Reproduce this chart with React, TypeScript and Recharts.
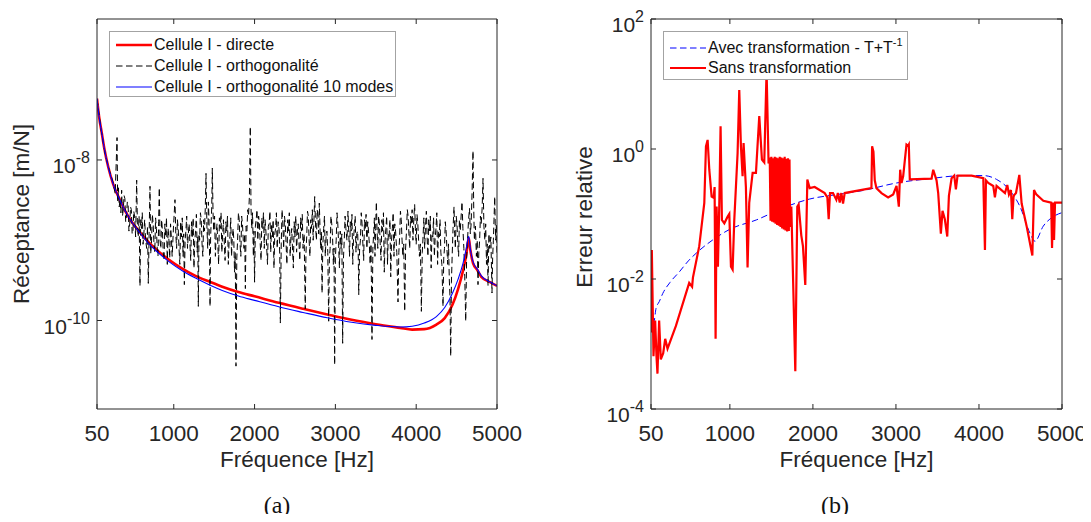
import { LineChart, Line, XAxis, YAxis, Label } from 'recharts';

const FONT = '"Liberation Sans", Arial, Helvetica, sans-serif';
const INK = '#262626';

const freqTicks = [50, 1000, 2000, 3000, 4000, 5000];
const recTicks = [1e-10, 1e-8];
const errTicks = [1e-4, 1e-2, 1, 100];
const recDomain = [7.9e-12, 5.7e-7];
const errDomain = [1e-4, 100];

// (a) receptance [m/N] vs frequency [Hz]
const directe = [
  [50, 5.8e-8], [75, 3.5e-8], [108, 2.2e-8], [140, 1.4e-8], [190, 8.1e-9], [250, 5.0e-9], [314, 3.5e-9],
  [400, 2.3e-9], [479, 1.7e-9], [580, 1.26e-9], [685, 9.5e-10], [800, 7.4e-10], [932, 5.8e-10], [1100, 4.47e-10],
  [1263, 3.63e-10], [1450, 3.02e-10], [1600, 2.63e-10], [1800, 2.26e-10], [2000, 2.0e-10], [2300, 1.66e-10],
  [2600, 1.40e-10], [2900, 1.19e-10], [3200, 1.02e-10], [3500, 9.0e-11], [3800, 8.1e-11], [3950, 7.7e-11],
  [4100, 7.8e-11], [4250, 8.9e-11], [4353, 1.07e-10], [4450, 1.58e-10], [4520, 2.5e-10], [4580, 4.2e-10],
  [4620, 6.6e-10], [4650, 1.07e-9], [4670, 7.6e-10], [4703, 5.2e-10], [4760, 4.2e-10], [4806, 3.5e-10],
  [4930, 2.95e-10], [5000, 2.7e-10],
];

const ortho10 = [
  [50, 5.8e-8], [75, 3.5e-8], [108, 2.2e-8], [140, 1.4e-8], [190, 8.1e-9], [250, 5.0e-9], [314, 3.5e-9],
  [400, 2.3e-9], [479, 1.7e-9], [580, 1.24e-9], [685, 9.2e-10], [800, 7.1e-10], [932, 5.5e-10], [1100, 4.2e-10],
  [1263, 3.4e-10], [1450, 2.75e-10], [1600, 2.37e-10], [1800, 2.02e-10], [2000, 1.78e-10], [2300, 1.48e-10],
  [2600, 1.26e-10], [2900, 1.08e-10], [3200, 9.5e-11], [3500, 8.7e-11], [3800, 8.3e-11], [3950, 8.5e-11],
  [4100, 9.3e-11], [4250, 1.12e-10], [4353, 1.45e-10], [4450, 2.2e-10], [4520, 3.3e-10], [4580, 5.2e-10],
  [4620, 7.9e-10], [4650, 1.12e-9], [4670, 7.8e-10], [4703, 5.4e-10], [4760, 4.3e-10], [4806, 3.6e-10],
  [4930, 2.95e-10], [5000, 2.7e-10],
];

const ortho = [
  [50, 5.8e-8], [100, 2.4e-8], [150, 1.2e-8], [200, 7.6e-9], [250, 5.2e-9], [275, 3.8e-9], [298, 1.9e-8],
  [306, 3.0e-9], [315, 4.5e-9], [325, 2.6e-9], [335, 3.2e-9], [345, 2.2e-9], [355, 4.2e-9], [365, 2.0e-9],
  [375, 2.4e-9], [385, 3.6e-9], [395, 3.3e-9], [405, 1.7e-9], [415, 2.0e-9], [425, 3.0e-9], [435, 2.8e-9],
  [445, 1.3e-9], [455, 1.6e-9], [465, 2.6e-9], [475, 2.4e-9], [485, 1.2e-9], [495, 1.3e-9], [505, 2.3e-9],
  [515, 2.0e-9], [528, 1.1e-9], [541, 5.6e-9], [550, 1.5e-9], [560, 1.1e-9], [571, 2.0e-9], [582, 2.7e-10],
  [591, 1.8e-9], [600, 1.4e-9], [610, 2.2e-9], [620, 8.9e-10], [630, 1.2e-9], [640, 1.8e-9], [652, 1.0e-9],
  [665, 7.9e-10], [675, 1.5e-9], [685, 2.9e-10], [695, 1.2e-9], [706, 4.7e-9], [715, 6.8e-10], [725, 1e-9],
  [735, 2.1e-9], [745, 1.6e-9], [755, 9.0e-10], [765, 7.1e-10], [775, 1.9e-9], [785, 1.4e-9], [795, 8.0e-10],
  [805, 6.3e-10], [813, 1.7e-9], [821, 4.5e-9], [830, 1.0e-9], [840, 7.9e-10], [850, 1.8e-9], [860, 1.3e-9],
  [870, 7.0e-10], [880, 5.6e-10], [890, 1.6e-9], [900, 1.1e-9], [910, 1.9e-9], [920, 5.0e-10], [930, 1.4e-9],
  [940, 1e-9], [950, 6.0e-10], [960, 1.6e-9], [970, 1.1e-9], [980, 6.3e-10], [997, 1.5e-9], [1015, 3.2e-9],
  [1025, 1.2e-9], [1035, 7.9e-10], [1045, 1.8e-9], [1055, 1.4e-9], [1065, 8.0e-10], [1075, 5.0e-10],
  [1085, 1.7e-9], [1095, 1.1e-9], [1105, 1.9e-9], [1115, 6.3e-10], [1123, 1.2e-9], [1131, 2.8e-10],
  [1140, 1.0e-9], [1150, 1.3e-9], [1160, 2.0e-9], [1170, 7.9e-10], [1180, 1.2e-9], [1190, 1.6e-9],
  [1200, 9.0e-10], [1210, 5.6e-10], [1220, 1.7e-9], [1230, 1.1e-9], [1240, 1.9e-9], [1250, 4.5e-10],
  [1260, 1.0e-9], [1270, 1.3e-9], [1280, 2.1e-9], [1290, 7.1e-10], [1297, 1.1e-9], [1304, 1.5e-10],
  [1312, 1.2e-9], [1320, 1e-9], [1330, 2.2e-9], [1340, 1.8e-9], [1350, 9.0e-10], [1360, 6.3e-10],
  [1370, 1.8e-9], [1380, 1.3e-9], [1390, 2.5e-9], [1399, 6.8e-9], [1410, 1.5e-9], [1420, 7.9e-10],
  [1428, 3.0e-9], [1435, 2.0e-9], [1442, 8.0e-10], [1449, 1.5e-10], [1456, 1.1e-9], [1462, 1.6e-9],
  [1470, 2.6e-9], [1477, 7.9e-9], [1486, 2.2e-9], [1495, 1.3e-9], [1505, 2.0e-9], [1515, 6.3e-10],
  [1525, 1.2e-9], [1535, 1.6e-9], [1545, 9.0e-10], [1555, 5.0e-10], [1565, 1.9e-9], [1575, 1.4e-9],
  [1585, 2.2e-9], [1595, 7.1e-10], [1605, 1.2e-9], [1615, 1.8e-9], [1625, 9.5e-10], [1635, 5.6e-10],
  [1645, 1.7e-9], [1655, 1.3e-9], [1665, 2.0e-9], [1675, 5.0e-10], [1685, 1.0e-9], [1695, 1.1e-9],
  [1705, 1.9e-9], [1715, 6.3e-10], [1725, 1.1e-9], [1735, 1.4e-9], [1743, 1.0e-9], [1752, 4.0e-10],
  [1761, 7.0e-10], [1770, 2.7e-11], [1780, 6.0e-10], [1790, 1e-9], [1800, 2.2e-9], [1810, 1.8e-9],
  [1820, 9.0e-10], [1830, 6.3e-10], [1840, 2.0e-9], [1850, 1.6e-9], [1860, 1.0e-9], [1870, 7.9e-10],
  [1878, 1.2e-9], [1886, 2.5e-10], [1895, 1.5e-9], [1905, 1.3e-9], [1915, 2.4e-9], [1925, 2.0e-9],
  [1936, 3.5e-9], [1947, 2.6e-8], [1956, 2.5e-9], [1965, 1.4e-9], [1975, 2.2e-9], [1985, 6.3e-10],
  [1992, 1.3e-9], [2000, 3.0e-10], [2010, 1.5e-9], [2020, 1.8e-9], [2030, 2.4e-9], [2040, 1e-9],
  [2050, 2.0e-9], [2060, 1.6e-9], [2070, 9.0e-10], [2080, 5.6e-10], [2090, 1.9e-9], [2100, 1.4e-9],
  [2110, 2.2e-9], [2120, 7.9e-10], [2130, 1.8e-9], [2140, 1.3e-9], [2150, 8.0e-10], [2160, 5.0e-10],
  [2170, 1.5e-9], [2180, 1.6e-9], [2190, 2.3e-9], [2200, 7.1e-10], [2210, 1.6e-9], [2220, 1.1e-9],
  [2230, 1.8e-9], [2240, 4.5e-10], [2250, 1.2e-9], [2260, 1.4e-9], [2270, 2.2e-9], [2280, 7.9e-10],
  [2292, 1.7e-9], [2305, 1.3e-9], [2312, 6.0e-10], [2319, 9.3e-11], [2330, 9.0e-10], [2340, 2.4e-9],
  [2350, 1.6e-9], [2360, 7.9e-10], [2370, 2.0e-9], [2380, 1.6e-9], [2390, 9.0e-10], [2400, 5.0e-10],
  [2410, 1.8e-9], [2420, 1.3e-9], [2430, 2.2e-9], [2440, 6.3e-10], [2450, 1.1e-9], [2460, 1.4e-9],
  [2470, 7.5e-10], [2480, 4.5e-10], [2490, 1.7e-9], [2500, 1.1e-9], [2510, 2.0e-9], [2520, 7.1e-10],
  [2530, 1.3e-9], [2540, 1.6e-9], [2550, 9.0e-10], [2560, 5.6e-10], [2570, 1.9e-9], [2580, 1.3e-9],
  [2590, 2.1e-9], [2600, 7.9e-10], [2613, 1.2e-9], [2627, 1.4e-10], [2636, 7.0e-10], [2645, 1.1e-9],
  [2655, 2.3e-9], [2665, 2.0e-9], [2675, 1.0e-9], [2685, 6.3e-10], [2695, 1.8e-9], [2705, 1.4e-9],
  [2715, 2.4e-9], [2725, 1e-9], [2735, 1.8e-9], [2744, 3.5e-9], [2755, 1.5e-9], [2765, 1e-9],
  [2775, 2.4e-9], [2785, 2.0e-9], [2793, 1.2e-9], [2801, 2.9e-9], [2810, 1.4e-9], [2818, 7.9e-10],
  [2827, 1.3e-9], [2835, 2.2e-10], [2845, 9.0e-10], [2855, 1.4e-9], [2865, 2.0e-9], [2875, 6.3e-10],
  [2885, 1.1e-9], [2895, 1.3e-9], [2906, 7.0e-10], [2917, 9.8e-11], [2926, 6.0e-10], [2935, 7.9e-10],
  [2945, 2.0e-9], [2955, 1.6e-9], [2965, 1.1e-9], [2975, 5.0e-10], [2983, 8.0e-10], [2991, 2.8e-11],
  [3000, 6.0e-10], [3010, 1e-9], [3020, 2.2e-9], [3030, 1.6e-9], [3040, 9.0e-10], [3050, 4.5e-10],
  [3060, 1.3e-9], [3070, 7.9e-10], [3080, 1.2e-9], [3090, 5.2e-11], [3100, 6.0e-10], [3110, 1e-9],
  [3120, 2.0e-9], [3130, 1.4e-9], [3143, 1.0e-9], [3156, 2.3e-9], [3165, 1.3e-9], [3175, 6.3e-10],
  [3185, 1.7e-9], [3195, 1.3e-9], [3205, 2.1e-9], [3215, 5.0e-10], [3225, 1.1e-9], [3235, 1.4e-9],
  [3245, 2.0e-9], [3255, 7.1e-10], [3265, 1.2e-9], [3275, 1.3e-9], [3282, 8.0e-10], [3289, 2.1e-10],
  [3300, 8.0e-10], [3310, 1e-9], [3320, 2.2e-9], [3330, 1.6e-9], [3340, 9.0e-10], [3350, 5.6e-10],
  [3360, 1.8e-9], [3370, 1.4e-9], [3380, 2.1e-9], [3390, 7.9e-10], [3400, 1.7e-9], [3410, 1.3e-9],
  [3420, 9.0e-10], [3430, 5.0e-10], [3441, 9.0e-10], [3453, 5.8e-11], [3464, 8.0e-10], [3475, 1.3e-9],
  [3483, 1.9e-9], [3490, 6.3e-10], [3498, 1.4e-9], [3507, 3.0e-9], [3516, 1.3e-9], [3525, 7.9e-10],
  [3535, 2.0e-9], [3545, 1.6e-9], [3555, 9.0e-10], [3565, 5.6e-10], [3575, 1.8e-9], [3585, 1.3e-9],
  [3595, 2.2e-9], [3605, 4.0e-10], [3615, 1.0e-9], [3625, 1.4e-9], [3635, 2.0e-9], [3645, 5.0e-10],
  [3655, 1.2e-9], [3665, 1.1e-9], [3675, 1.8e-9], [3685, 3.5e-10], [3695, 1.0e-9], [3705, 1.4e-9],
  [3715, 2.2e-9], [3725, 6.3e-10], [3735, 1.6e-9], [3745, 1.3e-9], [3760, 7.0e-10], [3775, 1.7e-10],
  [3785, 7.0e-10], [3795, 1.1e-9], [3805, 2.3e-9], [3815, 1.8e-9], [3825, 1.0e-9], [3835, 6.3e-10],
  [3846, 9.0e-10], [3858, 1.3e-10], [3869, 8.0e-10], [3880, 1.3e-9], [3890, 2.4e-9], [3900, 2.0e-9],
  [3910, 1.2e-9], [3920, 7.9e-10], [3930, 2.0e-9], [3940, 1.6e-9], [3950, 2.4e-9], [3960, 1e-9],
  [3970, 1.8e-9], [3981, 2.8e-9], [3990, 1.4e-9], [4000, 8.9e-10], [4010, 2.1e-9], [4020, 1.6e-9],
  [4030, 1.0e-9], [4040, 6.3e-10], [4052, 9.0e-10], [4064, 1.3e-10], [4075, 7.0e-10], [4085, 1.1e-9],
  [4095, 1.9e-9], [4105, 7.9e-10], [4115, 1.5e-9], [4126, 2.3e-9], [4135, 1.1e-9], [4145, 6.3e-10],
  [4155, 1.8e-9], [4165, 1.3e-9], [4175, 2.0e-9], [4185, 4.5e-10], [4195, 1.2e-9], [4205, 1.1e-9],
  [4215, 1.9e-9], [4225, 6.3e-10], [4235, 1.1e-9], [4245, 1.4e-9], [4255, 2.2e-9], [4265, 5.0e-10],
  [4275, 1.3e-9], [4285, 1.1e-9], [4295, 1.8e-9], [4305, 7.1e-10], [4318, 5.0e-10], [4332, 1.5e-10],
  [4341, 6.0e-10], [4350, 7.9e-10], [4360, 1.7e-9], [4370, 1.3e-9], [4380, 8.0e-10], [4390, 5.0e-10],
  [4400, 9.0e-10], [4410, 3.2e-10], [4418, 2.0e-10], [4427, 3.6e-11], [4436, 3.0e-10], [4445, 6.3e-10],
  [4456, 1.4e-9], [4468, 2.6e-9], [4476, 1.2e-9], [4485, 7.9e-10], [4495, 2.0e-9], [4505, 1.6e-9],
  [4515, 9.0e-10], [4525, 6.3e-10], [4535, 1.8e-9], [4545, 1.3e-9], [4556, 2.0e-9], [4567, 3.0e-9],
  [4578, 1.4e-9], [4590, 7.9e-10], [4601, 3.5e-10], [4613, 9.8e-11], [4624, 6.0e-10], [4635, 1e-9],
  [4648, 1.8e-9], [4660, 2.5e-9], [4670, 1.2e-9], [4680, 1.6e-9], [4692, 4.0e-9], [4703, 1.3e-8],
  [4712, 2.5e-9], [4720, 1e-9], [4733, 1.5e-9], [4745, 6.3e-10], [4755, 1.0e-9], [4765, 2.8e-10],
  [4775, 7.0e-10], [4785, 1e-9], [4795, 2.0e-9], [4805, 1.6e-9], [4816, 2.5e-9], [4827, 5.9e-9],
  [4838, 1.5e-9], [4850, 1e-9], [4860, 1.6e-9], [4870, 5.0e-10], [4880, 9.0e-10], [4889, 2.7e-10],
  [4900, 1.2e-9], [4910, 7.9e-10], [4924, 1.1e-9], [4938, 2.2e-10], [4946, 6.0e-10], [4955, 1e-9],
  [4963, 1.8e-9], [4972, 3.5e-9], [4978, 1.6e-9], [4985, 1e-9], [4993, 1.6e-9], [5000, 6.3e-10],
];

// (b) relative error vs frequency [Hz]
const avecTransfo = [
  [50, 2.8e-3], [80, 2.0e-3], [110, 3.5e-3], [150, 4.5e-3], [192, 6.0e-3], [280, 8.9e-3], [394, 1.3e-2],
  [500, 1.9e-2], [595, 2.5e-2], [795, 4.0e-2], [997, 5.8e-2], [1318, 8.1e-2], [1680, 0.13], [1961, 0.17],
  [2300, 0.2], [2604, 0.23], [3007, 0.3], [3408, 0.35], [3810, 0.39], [4051, 0.39], [4213, 0.34],
  [4373, 0.23], [4494, 0.13], [4614, 0.051], [4675, 0.038], [4774, 0.065], [4895, 0.091], [5000, 0.105],
];

const sansTransfo = [
  [50, 1.5e-3], [60, 2.8e-2], [80, 6.5e-4], [100, 2.3e-3], [116, 6.5e-4], [128, 3.5e-4], [148, 2.3e-3],
  [168, 5.8e-4], [197, 7.2e-4], [221, 1.2e-3], [249, 8.5e-4], [350, 1.9e-3], [510, 8.7e-3], [545, 7.6e-3],
  [555, 1.05e-2], [631, 3.2e-2], [692, 0.148], [712, 1.1], [732, 1.38], [752, 0.48], [780, 0.186],
  [804, 0.178], [816, 0.26], [828, 1.2e-3], [840, 0.13], [856, 1.55e-2], [872, 0.13], [888, 2.24],
  [904, 8.1e-2], [933, 7.2e-2], [973, 9.1e-2], [993, 0.1], [1013, 1.55e-2], [1033, 1.4e-2], [1053, 8.1e-2],
  [1093, 0.87], [1113, 8.1], [1133, 1.1], [1153, 0.38], [1165, 1.23], [1193, 0.26], [1213, 1.5e-2],
  [1233, 0.148], [1274, 0.43], [1314, 0.43], [1354, 3.2], [1386, 0.69], [1414, 0.62], [1442, 16],
  [1466, 0.6],
  [1480, 0.74], [1490, 0.079], [1500, 0.76], [1510, 0.076], [1520, 0.72], [1530, 0.074], [1540, 0.76],
  [1550, 0.071], [1560, 0.74], [1570, 0.068], [1580, 0.72], [1590, 0.066], [1600, 0.76], [1610, 0.063],
  [1620, 0.74], [1630, 0.06], [1640, 0.72], [1650, 0.058], [1660, 0.76], [1670, 0.056], [1680, 0.71],
  [1690, 0.054], [1700, 0.72], [1710, 0.055], [1718, 0.69], [1725, 0.063],
  [1740, 0.13], [1788, 3.8e-4], [1812, 0.13], [1828, 0.14], [1860, 0.047], [1880, 0.032], [1908, 8.1e-3],
  [1933, 0.34], [1961, 0.25], [2021, 0.26], [2142, 0.21], [2174, 0.18], [2190, 0.083], [2206, 0.21],
  [2242, 0.21], [2282, 0.166], [2300, 0.21], [2323, 0.15], [2343, 0.21], [2363, 0.145], [2383, 0.21],
  [2705, 0.25], [2713, 1.1], [2729, 0.91], [2745, 0.33], [2765, 0.25], [2826, 0.21], [2906, 0.18],
  [2967, 0.2], [3007, 0.27], [3035, 0.13], [3051, 0.48], [3067, 0.3], [3087, 0.38], [3127, 1.17],
  [3147, 1.12], [3155, 1.17], [3167, 0.34], [3429, 0.35], [3449, 0.48], [3489, 0.33], [3509, 0.21],
  [3541, 0.05], [3561, 0.112], [3589, 0.083], [3618, 0.045], [3638, 0.19], [3670, 0.355], [3702, 0.39],
  [3722, 0.24], [3742, 0.39], [3911, 0.39], [4052, 0.355], [4072, 0.028], [4084, 0.33], [4112, 0.3],
  [4172, 0.27], [4192, 0.18], [4212, 0.27], [4313, 0.21], [4341, 0.28], [4361, 0.2], [4385, 0.234],
  [4401, 0.083], [4417, 0.19], [4446, 0.21], [4486, 0.4], [4514, 0.145], [4574, 0.065], [4643, 0.023],
  [4663, 0.234], [4690, 0.2], [4775, 0.16], [4870, 0.15], [4880, 0.03], [4892, 0.15], [4904, 0.04],
  [4916, 0.15], [5000, 0.15],
];

const toPts = (arr: number[][]) => arr.map(([f, v]) => ({ f, v }));

const BottomTick = ({ x, y, payload }: any) => (
  <g>
    <line x1={x} x2={x} y1={y} y2={y - 5} stroke={INK} />
    <text x={x} y={y + 32} textAnchor="middle" fill={INK} fontSize={22.5} fontFamily={FONT}>
      {payload.value}
    </text>
  </g>
);

const TopTick = ({ x, y }: any) => <line x1={x} x2={x} y1={y} y2={y + 5} stroke={INK} />;

const RightTick = ({ x, y }: any) => <line x1={x} x2={x - 5} y1={y} y2={y} stroke={INK} />;

const PowTick = ({ x, y, payload }: any) => {
  const exp = Math.round(Math.log10(payload.value));
  return (
    <g>
      <line x1={x} x2={x + 5} y1={y} y2={y} stroke={INK} />
      <text x={x - 7} y={y + 13} textAnchor="end" fill={INK} fontSize={21} fontFamily={FONT}>
        <tspan>10</tspan>
        <tspan dy={-10} fontSize={16}>{`${exp}`}</tspan>
      </text>
    </g>
  );
};

const xTitle = (text: string) => (props: any) => {
  const vb = props.viewBox || { x: 0, y: 0, width: 0 };
  return (
    <text x={vb.x + vb.width / 2} y={vb.y + 58} textAnchor="middle" fill={INK} fontSize={22.5} fontFamily={FONT}>
      {text}
    </text>
  );
};

const yTitle = (text: string, bx: number, cy: number) => () => (
  <text x={bx} y={cy} transform={`rotate(-90, ${bx}, ${cy})`} textAnchor="middle" fill={INK} fontSize={22.5} fontFamily={FONT}>
    {text}
  </text>
);

const LegendRow = ({ color, width, dash, h, children }: any) => (
  <div style={{ display: 'flex', alignItems: 'center', height: h }}>
    <svg width={36} height={10} style={{ marginLeft: 6, marginRight: 2, flex: 'none' }}>
      <line x1={0} x2={36} y1={5} y2={5} stroke={color} strokeWidth={width} strokeDasharray={dash} />
    </svg>
    <span style={{ whiteSpace: 'nowrap', lineHeight: 1 }}>{children}</span>
  </div>
);

const legendBox = {
  position: 'absolute' as const,
  boxSizing: 'border-box' as const,
  background: '#fff',
  border: '1px solid #a3a3a3',
  fontFamily: FONT,
  fontSize: 16,
  color: '#111',
};

export default function App() {
  return (
    <div style={{ position: 'relative', width: 1091, height: 522, margin: -8, background: '#fff', overflow: 'hidden' }}>
      <div style={{ position: 'absolute', left: 0, top: 0 }}>
        <LineChart width={540} height={522} margin={{ top: 18, right: 42, bottom: 53, left: 0 }}>
          <XAxis dataKey="f" type="number" domain={[50, 5000]} ticks={freqTicks} interval={0} allowDataOverflow
            height={60} tickSize={0} tickMargin={0} tickLine={false} axisLine={{ stroke: INK }} tick={<BottomTick />}>
            <Label content={xTitle('Fréquence [Hz]')} />
          </XAxis>
          <XAxis xAxisId="top" orientation="top" dataKey="f" type="number" domain={[50, 5000]} ticks={freqTicks}
            interval={0} allowDataOverflow height={1} tickSize={0} tickMargin={0} tickLine={false}
            axisLine={{ stroke: INK }} tick={<TopTick />} />
          <YAxis scale="log" type="number" domain={recDomain} ticks={recTicks} interval={0} allowDataOverflow
            width={97} tickSize={0} tickMargin={0} tickLine={false} axisLine={{ stroke: INK }} tick={<PowTick />}>
            <Label content={yTitle('Réceptance [m/N]', 29, 214)} />
          </YAxis>
          <YAxis yAxisId="right" orientation="right" scale="log" type="number" domain={recDomain} ticks={recTicks}
            interval={0} allowDataOverflow width={1} tickSize={0} tickMargin={0} tickLine={false}
            axisLine={{ stroke: INK }} tick={<RightTick />} />
          <Line data={toPts(directe)} dataKey="v" type="monotone" stroke="#ff0000" strokeWidth={2.6}
            dot={false} activeDot={false} isAnimationActive={false} />
          <Line data={toPts(ortho)} dataKey="v" type="linear" stroke="#000" strokeWidth={1}
            strokeDasharray="6.5 3.5" dot={false} activeDot={false} isAnimationActive={false} />
          <Line data={toPts(ortho10)} dataKey="v" type="monotone" stroke="#0000ff" strokeWidth={1.1}
            dot={false} activeDot={false} isAnimationActive={false} />
        </LineChart>
      </div>

      <div style={{ position: 'absolute', left: 540, top: 0 }}>
        <LineChart width={551} height={522} margin={{ top: 18, right: 28, bottom: 53, left: 0 }}>
          <XAxis dataKey="f" type="number" domain={[50, 5000]} ticks={freqTicks} interval={0} allowDataOverflow
            height={60} tickSize={0} tickMargin={0} tickLine={false} axisLine={{ stroke: INK }} tick={<BottomTick />}>
            <Label content={xTitle('Fréquence [Hz]')} />
          </XAxis>
          <XAxis xAxisId="top" orientation="top" dataKey="f" type="number" domain={[50, 5000]} ticks={freqTicks}
            interval={0} allowDataOverflow height={1} tickSize={0} tickMargin={0} tickLine={false}
            axisLine={{ stroke: INK }} tick={<TopTick />} />
          <YAxis scale="log" type="number" domain={errDomain} ticks={errTicks} interval={0} allowDataOverflow
            width={111} tickSize={0} tickMargin={0} tickLine={false} axisLine={{ stroke: INK }} tick={<PowTick />}>
            <Label content={yTitle('Erreur relative', 52, 217)} />
          </YAxis>
          <YAxis yAxisId="right" orientation="right" scale="log" type="number" domain={errDomain} ticks={errTicks}
            interval={0} allowDataOverflow width={1} tickSize={0} tickMargin={0} tickLine={false}
            axisLine={{ stroke: INK }} tick={<RightTick />} />
          <Line data={toPts(avecTransfo)} dataKey="v" type="monotone" stroke="#0000ff" strokeWidth={1}
            strokeDasharray="6.5 3.5" dot={false} activeDot={false} isAnimationActive={false} />
          <Line data={toPts(sansTransfo)} dataKey="v" type="linear" stroke="#ff0000" strokeWidth={2.2}
            dot={false} activeDot={false} isAnimationActive={false} />
        </LineChart>
      </div>

      {/* legends */}
      <div style={{ ...legendBox, left: 109, top: 31, width: 287, height: 66, paddingTop: 2 }}>
        <LegendRow color="#ff0000" width={2.6} h={21}>Cellule I - directe</LegendRow>
        <LegendRow color="#000" width={1} dash="6.5 3.5" h={21}>Cellule I - orthogonalité</LegendRow>
        <LegendRow color="#0000ff" width={1.1} h={21}>Cellule I - orthogonalité 10 modes</LegendRow>
      </div>
      <div style={{ ...legendBox, left: 663, top: 31, width: 245, height: 49, paddingTop: 6 }}>
        <LegendRow color="#0000ff" width={1} dash="6.5 3.5" h={20}>
          Avec transformation - T+T<span style={{ fontSize: 11, position: 'relative', top: -7 }}>-1</span>
        </LegendRow>
        <LegendRow color="#ff0000" width={2.2} h={20}>Sans transformation</LegendRow>
      </div>

      <svg width={1091} height={522} style={{ position: 'absolute', left: 0, top: 0, pointerEvents: 'none' }}>
        <text x={277} y={513} textAnchor="middle" fontSize={24} fontFamily='"Liberation Serif", "DejaVu Serif", serif' fill="#111">(a)</text>
        <text x={835} y={513} textAnchor="middle" fontSize={24} fontFamily='"Liberation Serif", "DejaVu Serif", serif' fill="#111">(b)</text>
      </svg>
    </div>
  );
}
